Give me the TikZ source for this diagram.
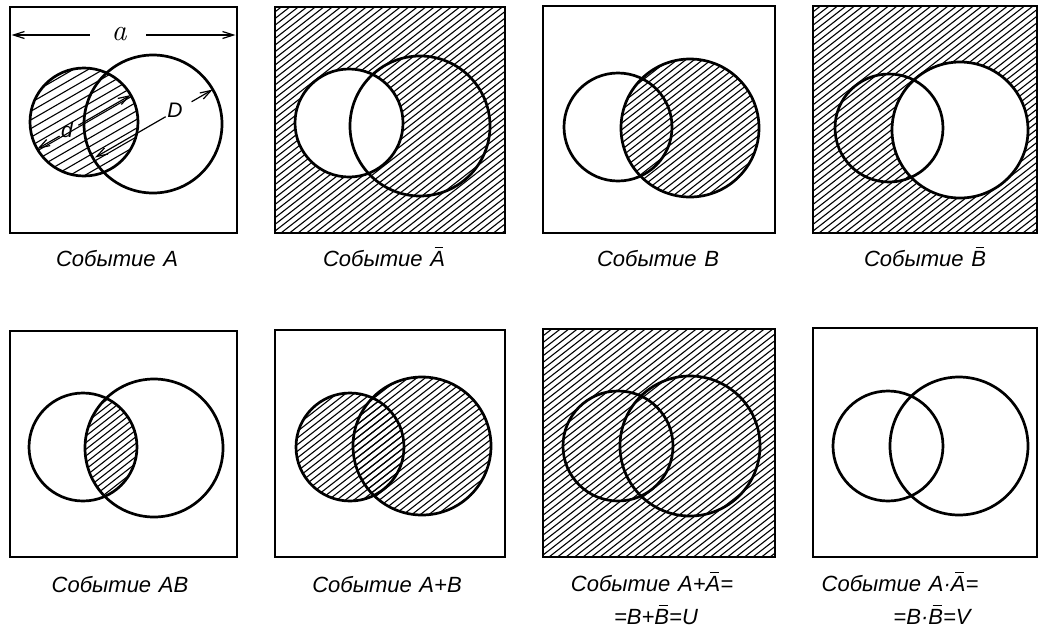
\documentclass[tikz,border=0pt]{standalone}
\usepackage{fontspec}
\newfontfamily\capfont{Liberation Sans}
\usetikzlibrary{arrows.meta,calc}
\newcommand\ovl[1]{{\setbox0\hbox{#1}\rlap{\kern0.3\wd0\raisebox{\dimexpr\ht0+2.5pt\relax}{\rule{0.6\wd0}{1.4pt}}}\box0}}
% hatching: lines at 38 degrees, horizontal step 8.5
\newcommand\hatchat[2]{\foreach \s in {-300,-291.5,...,240} \draw[hatchline] (#1+\s,#2) -- ++(-38:375);}
% hatching in the first panel: shallower, 30 degrees
\newcommand\hatchfirst[2]{\foreach \s in {-400,-385,...,240} \draw[hatchline] (#1+\s,#2) -- ++(-30:460);}
\begin{document}
\begin{tikzpicture}[x=1pt,y=-1pt,
  frame/.style={line width=2.8pt},
  ring/.style={line width=2.7pt},
  hatchline/.style={line width=1.1pt},
  captext/.style={font=\capfont\itshape\fontsize{22}{26}\selectfont, anchor=base, inner sep=0pt},
  dimlabel/.style={font=\capfont\itshape\fontsize{21}{24}\selectfont, inner sep=0pt},
  dimline/.style={line width=1.2pt},
  tipA/.style={-{Straight Barb[length=11pt,width=7pt]}},
  tipB/.style={{Straight Barb[length=11pt,width=7pt]}-}]
\useasboundingbox (0,0) rectangle (1039,630);

% ---------- Panel 1: event A ----------
\begin{scope}\clip (84,122) circle[radius=54pt]; \hatchfirst{10}{233} \end{scope}
\draw[ring] (84,122) circle[radius=54pt];
\draw[ring] (153,124) circle[radius=69pt];
\draw[frame] (10,7) rectangle (237,233);
% dimension a
\node[font=\rmfamily\itshape\fontsize{30}{32}\selectfont, inner sep=0pt] (la) at (119,34) {a};
\coordinate (aL) at (11.5,35);
\coordinate (aR) at (235.5,35);
\draw[dimline,tipB] (aL) -- (90,35);
\draw[dimline,tipA] (146,35) -- (aR);
% dimension d
\coordinate (dL) at (37.2,149);
\coordinate (dR) at (130.8,95);
\node[dimlabel] (ld) at (67,130) {d};
\draw[dimline,tipB] (dL) -- ($(dL)!0.24!(dR)$);
\draw[dimline,tipA] ($(dL)!0.44!(dR)$) -- (dR);
% dimension D
\coordinate (DL) at (95,157.5);
\coordinate (DR) at (212.8,89.5);
\node[dimlabel] (lD) at (175,110) {D};
\draw[dimline,tipB] (DL) -- ($(DL)!0.6!(DR)$);
\draw[dimline,tipA] ($(DL)!0.82!(DR)$) -- (DR);
\node[captext] (c1) at (117,266) {Событие\hspace{0.35em}A};

% ---------- Panel 2: not A ----------
\begin{scope}\clip (275,7) rectangle (505,233); \hatchat{275}{233} \end{scope}
\fill[white] (349,123) circle[radius=54pt];
\draw[ring] (349,123) circle[radius=54pt];
\draw[ring] (420,126) circle[radius=70pt];
\draw[frame] (275,7) rectangle (505,233);
\node[captext] (c2) at (384,266) {Событие\hspace{0.35em}\ovl{A}};

% ---------- Panel 3: event B ----------
\begin{scope}\clip (690,128) circle[radius=69pt]; \hatchat{543}{233} \end{scope}
\draw[ring] (618,127) circle[radius=54pt];
\draw[ring] (690,128) circle[radius=69pt];
\draw[frame] (543,6) rectangle (775,233);
\node[captext] (c3) at (658,266) {Событие\hspace{0.35em}B};

% ---------- Panel 4: not B ----------
\begin{scope}\clip (813,6) rectangle (1037,233); \hatchat{813}{233} \end{scope}
\fill[white] (960,130) circle[radius=68pt];
\draw[ring] (889,128) circle[radius=54pt];
\draw[ring] (960,130) circle[radius=68pt];
\draw[frame] (813,6) rectangle (1037,233);
\node[captext] (c4) at (925,266) {Событие\hspace{0.35em}\ovl{B}};

% ---------- Panel 5: AB ----------
\begin{scope}\clip (83,447) circle[radius=54pt]; \clip (154,448) circle[radius=69pt]; \hatchat{10}{557} \end{scope}
\draw[ring] (83,447) circle[radius=54pt];
\draw[ring] (154,448) circle[radius=69pt];
\draw[frame] (10,331) rectangle (237,557);
\node[captext] (c5) at (120,592) {Событие\hspace{0.35em}AB};

% ---------- Panel 6: A+B ----------
\begin{scope}\clip (350,447) circle[radius=54pt]; \hatchat{275}{557} \end{scope}
\begin{scope}\clip (422,446) circle[radius=69pt]; \hatchat{275}{557} \end{scope}
\draw[ring] (350,447) circle[radius=54pt];
\draw[ring] (422,446) circle[radius=69pt];
\draw[frame] (275,330) rectangle (505,557);
\node[captext] (c6) at (387,592) {Событие\hspace{0.35em}A+B};

% ---------- Panel 7: U ----------
\begin{scope}\clip (543,329) rectangle (775,557); \hatchat{543}{557} \end{scope}
\draw[ring] (618,446) circle[radius=55pt];
\draw[ring] (690,446) circle[radius=70pt];
\draw[frame] (543,329) rectangle (775,557);
\node[captext] (c7a) at (652,591) {Событие\hspace{0.35em}A+\ovl{A}=};
\node[captext] (c7b) at (656,624) {=B+\ovl{B}=U};

% ---------- Panel 8: V ----------
\draw[ring] (888,446) circle[radius=55pt];
\draw[ring] (959,446) circle[radius=69pt];
\draw[frame] (813,328) rectangle (1037,557);
\node[captext] (c8a) at (900,591) {Событие\hspace{0.35em}A·\ovl{A}=};
\node[captext] (c8b) at (932,624) {=B·\ovl{B}=V};
\end{tikzpicture}
\end{document}
